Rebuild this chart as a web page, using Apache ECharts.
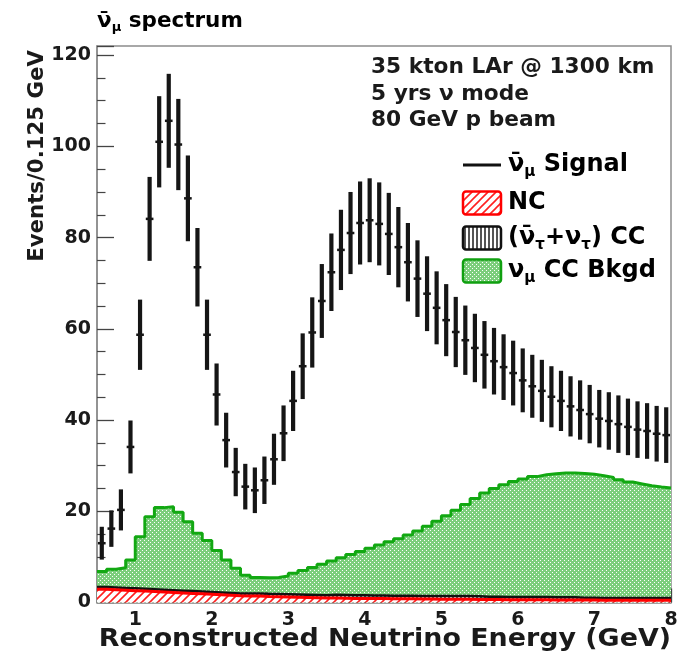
<!DOCTYPE html>
<html>
<head>
<meta charset="utf-8">
<script src="https://cdn.jsdelivr.net/npm/echarts@6/dist/echarts.min.js"></script>
<style>
html,body{margin:0;padding:0;background:#fff;}
#chart{width:690px;height:657px;}
</style>
</head>
<body>
<div id="chart"></div>
<script>
// ---- binning ----
const X_MIN = 0.5;
const X_MAX = 8;
const BIN_WIDTH = 0.125;
const X_TICKS = [1, 2, 3, 4, 5, 6, 7, 8];
const Y_TICKS = [0, 20, 40, 60, 80, 100, 120];

// ---- anti-numu signal (events per bin) and its error ----
const SIGNAL = [13.0, 16.2, 20.3, 34.1, 58.7, 84.1, 101.0, 105.6, 100.4, 88.6,
  73.5, 58.7, 45.6, 35.6, 28.6, 25.4, 24.6, 26.8, 31.4, 37.1,
  44.2, 51.8, 59.2, 66.1, 72.4, 77.3, 81.0, 83.2, 83.8, 83.0,
  80.8, 77.9, 74.6, 71.0, 67.7, 64.6, 61.9, 59.3, 57.5, 55.8,
  54.3, 52.9, 51.6, 50.3, 48.7, 47.4, 46.4, 45.1, 44.2, 43.0,
  42.2, 41.3, 40.3, 39.8, 39.1, 38.5, 37.9, 37.6, 37.0, 36.7];
const SIGNAL_ERR = [3.6, 4.0, 4.5, 5.8, 7.7, 9.2, 10.0, 10.3, 10.0, 9.4,
  8.6, 7.7, 6.8, 6.0, 5.3, 5.0, 5.0, 5.2, 5.6, 6.1,
  6.6, 7.2, 7.7, 8.1, 8.5, 8.8, 9.0, 9.1, 9.2, 9.1,
  9.0, 8.8, 8.6, 8.4, 8.2, 8.0, 7.9, 7.7, 7.6, 7.5,
  7.4, 7.3, 7.2, 7.1, 7.0, 6.9, 6.8, 6.7, 6.6, 6.6,
  6.5, 6.4, 6.3, 6.3, 6.3, 6.2, 6.2, 6.1, 6.1, 6.1];

// ---- backgrounds (individual contributions, stacked NC -> tau CC -> numu CC) ----
const NC = [2.9, 2.8, 2.7, 2.6, 2.5, 2.4, 2.3, 2.2, 2.1, 2.0,
  1.9, 1.8, 1.7, 1.6, 1.5, 1.45, 1.4, 1.3, 1.25, 1.2,
  1.15, 1.1, 1.05, 1.0, 1.0, 0.95, 0.9, 0.9, 0.85, 0.85,
  0.8, 0.8, 0.8, 0.75, 0.75, 0.7, 0.7, 0.7, 0.7, 0.65,
  0.65, 0.65, 0.6, 0.6, 0.6, 0.6, 0.6, 0.55, 0.55, 0.55,
  0.55, 0.55, 0.5, 0.5, 0.5, 0.5, 0.5, 0.5, 0.5, 0.5];
const TAU_CC = [0.5, 0.5, 0.5, 0.5, 0.5, 0.5, 0.5, 0.5, 0.5, 0.5,
  0.5, 0.5, 0.5, 0.5, 0.5, 0.5, 0.6, 0.6, 0.6, 0.6,
  0.6, 0.6, 0.6, 0.6, 0.7, 0.7, 0.7, 0.7, 0.7, 0.7,
  0.7, 0.7, 0.7, 0.7, 0.7, 0.7, 0.7, 0.7, 0.7, 0.7,
  0.6, 0.6, 0.6, 0.6, 0.6, 0.6, 0.6, 0.6, 0.6, 0.6,
  0.5, 0.5, 0.5, 0.5, 0.5, 0.5, 0.5, 0.5, 0.5, 0.5];
const NUMU_CC = [3.4, 4.0, 4.4, 6.2, 11.4, 15.9, 18.0, 18.3, 17.2, 15.2,
  12.8, 11.3, 9.2, 7.2, 5.5, 4.05, 3.5, 3.5, 3.65, 4.0,
  4.65, 5.3, 6.05, 6.8, 7.4, 8.15, 8.9, 9.6, 10.35, 11.05,
  11.8, 12.5, 13.3, 14.25, 15.25, 16.4, 17.6, 18.8, 20.1, 21.45,
  22.75, 23.75, 24.6, 25.3, 25.9, 26.4, 26.8, 27.05, 27.25, 27.25,
  27.25, 27.05, 26.8, 26.4, 25.9, 25.4, 25.0, 24.6, 24.3, 24.1];

// ---- derived structures ----
const binLow = i => X_MIN + i * BIN_WIDTH;
const binCenter = i => X_MIN + (i + 0.5) * BIN_WIDTH;
function stepData(vals) {
  const d = vals.map((v, i) => [binLow(i), v]);
  d.push([X_MAX, vals[vals.length - 1]]);
  return d;
}
const stackNC = NC.slice();
const stackTau = NC.map((v, i) => v + TAU_CC[i]);
const stackNumu = stackTau.map((v, i) => v + NUMU_CC[i]);
const signalData = SIGNAL.map((v, i) => [binCenter(i), v, SIGNAL_ERR[i]]);

// ---- fill patterns ----
function makeCanvas(w, h, draw) {
  const c = document.createElement('canvas');
  c.width = w; c.height = h;
  draw(c.getContext('2d'));
  return c;
}
const greenPat = makeCanvas(4, 4, ctx => {
  ctx.fillStyle = 'rgb(124,206,124)'; ctx.fillRect(0, 0, 4, 4);
  ctx.fillStyle = '#ffffff'; ctx.fillRect(0, 0, 1, 1); ctx.fillRect(2, 2, 1, 1);
});
const redPat = makeCanvas(8, 8, ctx => {
  ctx.fillStyle = '#ffffff'; ctx.fillRect(0, 0, 8, 8);
  ctx.strokeStyle = '#ff2020'; ctx.lineWidth = 1.6;
  ctx.beginPath();
  ctx.moveTo(-1, 9); ctx.lineTo(9, -1);
  ctx.moveTo(-5, 5); ctx.lineTo(5, -5);
  ctx.moveTo(3, 13); ctx.lineTo(13, 3);
  ctx.stroke();
});
const vertPat = makeCanvas(4, 4, ctx => {
  ctx.fillStyle = '#ffffff'; ctx.fillRect(0, 0, 4, 4);
  ctx.fillStyle = '#555555'; ctx.fillRect(0, 0, 2, 4);
});
const pat = c => ({ image: c, repeat: 'repeat' });

const FONT = 'DejaVu Sans';
const TXT = '#1a1a1a';
const tx = (fs, extra) => Object.assign({ fontFamily: FONT, fontWeight: 'bold', fontSize: fs, fill: TXT }, extra || {});
const makeRich = (fs, sfs, lh) => ({
  a: { fontFamily: FONT, fontWeight: 'bold', fontSize: fs, color: TXT, lineHeight: lh },
  s: { fontFamily: FONT, fontWeight: 'bold', fontSize: sfs, color: TXT, verticalAlign: 'bottom' }
});
const richTitle = makeRich(21.5, 13, 26);
const richLegend = makeRich(24, 15, 29);

const chart = echarts.init(document.getElementById('chart'));

const legendRows = [
  { y: 165, kind: 'line', text: '{a|\u03BD\u0304}{s|\u03BC}{a| Signal}' },
  { y: 203, kind: 'nc', text: '{a|NC}' },
  { y: 238, kind: 'tau', text: '{a|(\u03BD\u0304}{s|\u03C4}{a|+\u03BD}{s|\u03C4}{a|) CC}' },
  { y: 271, kind: 'numu', text: '{a|\u03BD}{s|\u03BC}{a| CC Bkgd}' }
];
const legendGraphics = [];
legendRows.forEach(r => {
  if (r.kind === 'line') {
    legendGraphics.push({ type: 'line', shape: { x1: 463, y1: r.y, x2: 501, y2: r.y }, style: { stroke: '#111', lineWidth: 3 } });
  } else {
    const cfg = {
      nc: { fill: pat(redPat), stroke: '#ff0000' },
      tau: { fill: pat(vertPat), stroke: '#111111' },
      numu: { fill: pat(greenPat), stroke: '#10a010' }
    }[r.kind];
    legendGraphics.push({ type: 'rect', shape: { x: 463, y: r.y - 11.5, width: 38, height: 23, r: 3 }, style: { fill: cfg.fill, stroke: cfg.stroke, lineWidth: 2.5 } });
  }
  legendGraphics.push({ type: 'text', x: 508, y: r.y, style: { text: r.text, rich: richLegend, verticalAlign: 'middle', align: 'left' } });
});

const option = {
  animation: false,
  backgroundColor: '#ffffff',
  grid: { left: 97, right: 19, top: 46, bottom: 54.5, show: true, borderColor: '#8c8c8c', borderWidth: 1.5, backgroundColor: 'transparent' },
  xAxis: {
    type: 'value', min: X_MIN, max: X_MAX, splitNumber: 8,
    axisLine: { show: true, lineStyle: { color: '#8c8c8c', width: 1.5 } },
    axisTick: { show: true, inside: true, length: 14, lineStyle: { color: '#444', width: 1.3 } },
    minorTick: { show: true, splitNumber: 5, length: 7, lineStyle: { color: '#444', width: 1.2 } },
    splitLine: { show: false },
    axisLabel: {
      margin: 8, color: TXT, fontFamily: FONT, fontWeight: 'bold', fontSize: 19,
      formatter: v => (X_TICKS.indexOf(v) >= 0 ? String(v) : '')
    }
  },
  yAxis: {
    type: 'value', min: 0, max: 122, interval: 20,
    axisLine: { show: true, lineStyle: { color: '#8c8c8c', width: 1.5 } },
    axisTick: { show: true, inside: true, length: 17, lineStyle: { color: '#444', width: 1.3 } },
    minorTick: { show: true, splitNumber: 4, length: 8.5, lineStyle: { color: '#444', width: 1.2 } },
    splitLine: { show: false },
    axisLabel: {
      margin: 6, color: TXT, fontFamily: FONT, fontWeight: 'bold', fontSize: 19,
      formatter: v => (Y_TICKS.indexOf(v) >= 0 ? String(v) : '')
    }
  },
  series: [
    {
      name: '\u03BD\u03BC CC Bkgd', type: 'line', step: 'end', data: stepData(stackNumu),
      showSymbol: false, z: 1,
      lineStyle: { color: '#12a812', width: 3 },
      areaStyle: { color: pat(greenPat), opacity: 1 }
    },
    {
      name: 'tau CC', type: 'line', step: 'end', data: stepData(stackTau),
      showSymbol: false, z: 2,
      lineStyle: { color: '#111111', width: 2.5 },
      areaStyle: { color: pat(vertPat), opacity: 1 }
    },
    {
      name: 'NC', type: 'line', step: 'end', data: stepData(stackNC),
      showSymbol: false, z: 3,
      lineStyle: { color: '#ff0000', width: 3 },
      areaStyle: { color: pat(redPat), opacity: 1 }
    },
    {
      name: 'Signal', type: 'custom', z: 5, data: signalData,
      renderItem: (params, api) => {
        const x = api.value(0), y = api.value(1), e = api.value(2);
        const c = api.coord([x, y]);
        const t = api.coord([x, y + e]);
        const b = api.coord([x, y - e]);
        const l = api.coord([x - BIN_WIDTH * 0.4, y]);
        const r = api.coord([x + BIN_WIDTH * 0.4, y]);
        return {
          type: 'group', children: [
            { type: 'line', shape: { x1: c[0], y1: t[1], x2: c[0], y2: b[1] }, style: { stroke: '#151515', lineWidth: 4.2 } },
            { type: 'line', shape: { x1: l[0], y1: c[1], x2: r[0], y2: c[1] }, style: { stroke: '#151515', lineWidth: 2.5 } }
          ]
        };
      }
    }
  ],
  graphic: [
    { type: 'text', x: 97, y: 21, style: { text: '{a|\u03BD\u0304}{s|\u03BC}{a| spectrum}', rich: richTitle, verticalAlign: 'middle', align: 'left' } },
    { type: 'text', x: 371, y: 67, style: Object.assign(tx(21.7), { text: '35 kton LAr @ 1300 km', verticalAlign: 'middle' }) },
    { type: 'text', x: 371, y: 94, style: Object.assign(tx(21.7), { text: '5 yrs \u03BD mode', verticalAlign: 'middle' }) },
    { type: 'text', x: 371, y: 120, style: Object.assign(tx(21.7), { text: '80 GeV p beam', verticalAlign: 'middle' }) },
    { type: 'text', x: 37, y: 50, rotation: Math.PI / 2, style: Object.assign(tx(21.3), { text: 'Events/0.125 GeV', align: 'right', verticalAlign: 'middle' }) },
    { type: 'text', x: 671, y: 640, scaleX: 1.12, style: Object.assign(tx(24), { text: 'Reconstructed Neutrino Energy (GeV)', align: 'right', verticalAlign: 'middle' }) }
  ].concat(legendGraphics)
};
chart.setOption(option);
</script>
</body>
</html>
